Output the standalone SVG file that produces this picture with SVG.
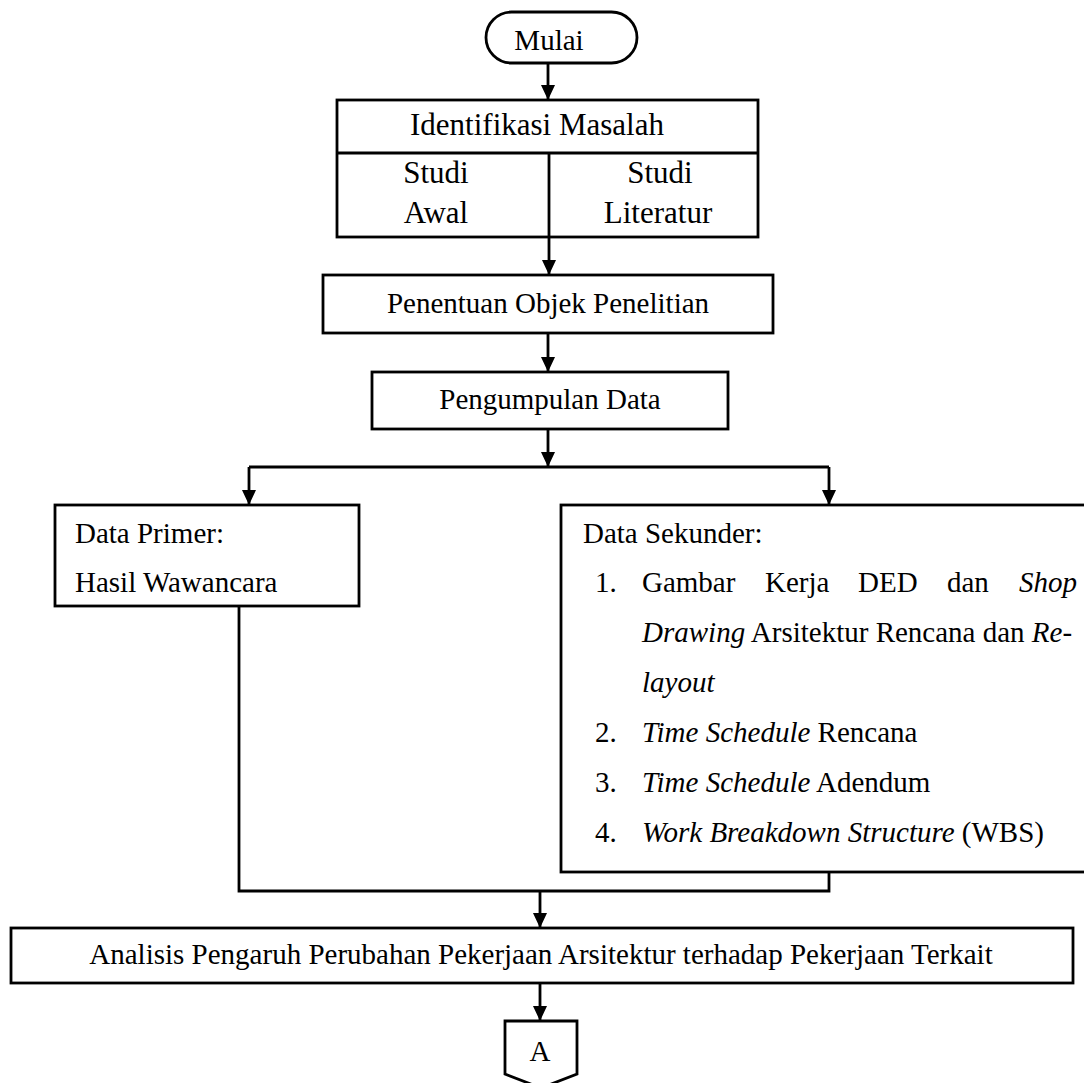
<svg xmlns="http://www.w3.org/2000/svg" width="1084" height="1083" viewBox="0 0 1084 1083">
<defs>
<marker id="arr" viewBox="0 0 15 14" refX="15" refY="7" markerWidth="15" markerHeight="14" markerUnits="userSpaceOnUse" orient="auto">
<path d="M0,0 L15,7 L0,14 z" fill="#000"/>
</marker>
<style>
.box{fill:#fff;stroke:#000;stroke-width:2.8}
.ln{fill:none;stroke:#000;stroke-width:2.8}
.t{font-family:"Liberation Serif","Times New Roman",serif;font-size:29px;fill:#000}
.tb{font-family:"Liberation Serif","Times New Roman",serif;font-size:31px;fill:#000}
.m{text-anchor:middle}
.i{font-style:italic}
</style>
</defs>
<rect width="1084" height="1083" fill="#fff"/>

<g id="connectors">
<line class="ln" x1="548" y1="63" x2="548" y2="100" marker-end="url(#arr)"/>
<line class="ln" x1="549" y1="237" x2="549" y2="275" marker-end="url(#arr)"/>
<line class="ln" x1="548" y1="333" x2="548" y2="372" marker-end="url(#arr)"/>
<line class="ln" x1="548" y1="429" x2="548" y2="467" marker-end="url(#arr)"/>
<line class="ln" x1="249" y1="467" x2="829" y2="467"/>
<line class="ln" x1="249" y1="467" x2="249" y2="505" marker-end="url(#arr)"/>
<line class="ln" x1="829" y1="467" x2="829" y2="505" marker-end="url(#arr)"/>
<polyline class="ln" points="239,606 239,891 829,891 829,872"/>
<line class="ln" x1="540" y1="891" x2="540" y2="928" marker-end="url(#arr)"/>
<line class="ln" x1="540" y1="983" x2="540" y2="1021" marker-end="url(#arr)"/>
</g>

<g id="mulai">
<rect class="box" x="486" y="12" width="151" height="51" rx="25.5" ry="25.5"/>
<text class="t m" x="549" y="50">Mulai</text>
</g>

<g id="identifikasi">
<rect class="box" x="337" y="100" width="421" height="137"/>
<line class="ln" x1="337" y1="153" x2="758" y2="153"/>
<line class="ln" x1="549" y1="153" x2="549" y2="237"/>
<text class="tb m" x="537" y="135">Identifikasi Masalah</text>
<text class="tb m" x="436" y="183">Studi</text>
<text class="tb m" x="436" y="223">Awal</text>
<text class="tb m" x="660" y="183">Studi</text>
<text class="tb m" x="658" y="223">Literatur</text>
</g>

<g id="penentuan">
<rect class="box" x="323" y="275" width="450" height="58"/>
<text class="t m" x="548" y="313">Penentuan Objek Penelitian</text>
</g>

<g id="pengumpulan">
<rect class="box" x="372" y="372" width="356" height="57"/>
<text class="t m" x="550" y="409">Pengumpulan Data</text>
</g>

<g id="data-primer">
<rect class="box" x="55" y="505" width="304" height="101"/>
<text class="t" x="75" y="543">Data Primer:</text>
<text class="t" x="75" y="592">Hasil Wawancara</text>
</g>

<g id="data-sekunder">
<rect class="box" x="561" y="505" width="540" height="367"/>
<text class="t" x="583" y="543">Data Sekunder:</text>
<text class="t" x="595" y="592">1.</text>
<text class="t" x="642" y="592">Gambar</text>
<text class="t" x="765" y="592">Kerja</text>
<text class="t" x="858" y="592">DED</text>
<text class="t" x="947" y="592">dan</text>
<text class="t i" x="1019" y="592">Shop</text>
<text class="t" x="642" y="642"><tspan class="i">Drawing</tspan> Arsitektur Rencana dan <tspan class="i">Re-</tspan></text>
<text class="t i" x="642" y="692">layout</text>
<text class="t" x="595" y="742">2.</text>
<text class="t" x="642" y="742"><tspan class="i">Time Schedule</tspan> Rencana</text>
<text class="t" x="595" y="792">3.</text>
<text class="t" x="642" y="792"><tspan class="i">Time Schedule</tspan> Adendum</text>
<text class="t" x="595" y="842">4.</text>
<text class="t" x="642" y="842"><tspan class="i">Work Breakdown Structure</tspan> (WBS)</text>
</g>

<g id="analisis">
<rect class="box" x="11" y="928" width="1062" height="55"/>
<text class="t m" x="541" y="964">Analisis Pengaruh Perubahan Pekerjaan Arsitektur terhadap Pekerjaan Terkait</text>
</g>

<g id="offpage-a">
<path class="box" d="M505,1021 L577,1021 L577,1074 L541,1088 L505,1074 z"/>
<text class="t m" x="540" y="1061">A</text>
</g>
</svg>
